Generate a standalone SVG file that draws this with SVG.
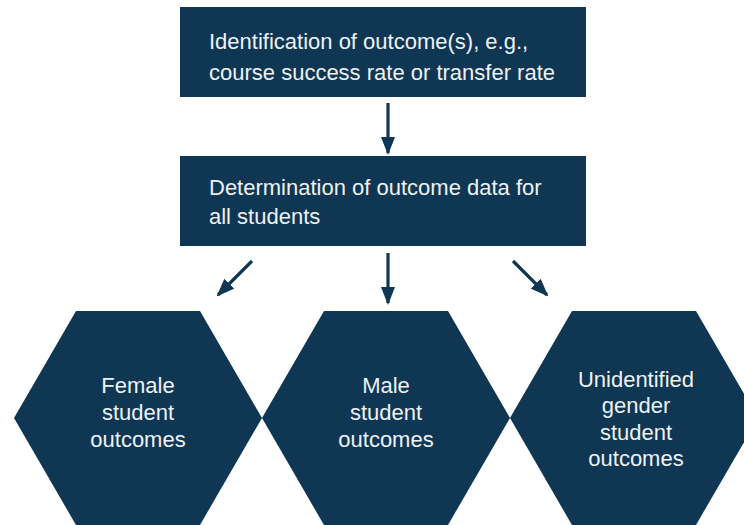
<svg xmlns="http://www.w3.org/2000/svg" width="744" height="525" viewBox="0 0 744 525">
  <style>
    .shape { fill: #0f3653; }
    .label { font-family: "Liberation Sans", Arial, Helvetica, sans-serif; font-size: 22px; fill: #eef2f5; }
    .mid { text-anchor: middle; }
    .link { stroke: #0f3653; stroke-width: 3.2; fill: none; marker-end: url(#head); }
  </style>
  <defs>
    <!-- arrowhead drawn along +x so orient="auto" follows each line -->
    <marker id="head" markerUnits="userSpaceOnUse" markerWidth="18" markerHeight="14" viewBox="0 0 18 14" refX="16" refY="7" orient="auto">
      <path d="M0,0 L18,7 L0,14 Z" fill="#0f3653"/>
    </marker>
  </defs>

  <rect width="744" height="525" fill="#ffffff"/>

  <g id="identify-outcomes">
    <rect class="shape" x="180" y="7" width="406" height="90"/>
    <text class="label" x="209" y="49">Identification of outcome(s), e.g.,</text>
    <text class="label" x="209" y="80">course success rate or transfer rate</text>
  </g>

  <g id="determine-data">
    <rect class="shape" x="180" y="156" width="406" height="90"/>
    <text class="label" x="209" y="195">Determination of outcome data for</text>
    <text class="label" x="209" y="224">all students</text>
  </g>

  <g id="female-outcomes">
    <polygon class="shape" points="14,418 76,311 200,311 262,418 200,525 76,525"/>
    <text class="label mid" x="138" y="393">Female</text>
    <text class="label mid" x="138" y="420">student</text>
    <text class="label mid" x="138" y="447">outcomes</text>
  </g>

  <g id="male-outcomes">
    <polygon class="shape" points="262,418 324,311 448,311 510,418 448,525 324,525"/>
    <text class="label mid" x="386" y="393">Male</text>
    <text class="label mid" x="386" y="420">student</text>
    <text class="label mid" x="386" y="447">outcomes</text>
  </g>

  <g id="unidentified-outcomes">
    <polygon class="shape" points="510,418 572,311 696,311 758,418 696,525 572,525"/>
    <text class="label mid" x="636" y="387">Unidentified</text>
    <text class="label mid" x="636" y="413">gender</text>
    <text class="label mid" x="636" y="440">student</text>
    <text class="label mid" x="636" y="466">outcomes</text>
  </g>

  <g id="connectors">
    <path class="link" d="M388,103 L388,153"/>
    <path class="link" d="M388,253 L388,303"/>
    <path class="link" d="M252,261 L218,295"/>
    <path class="link" d="M513,261 L547,295"/>
  </g>
</svg>
